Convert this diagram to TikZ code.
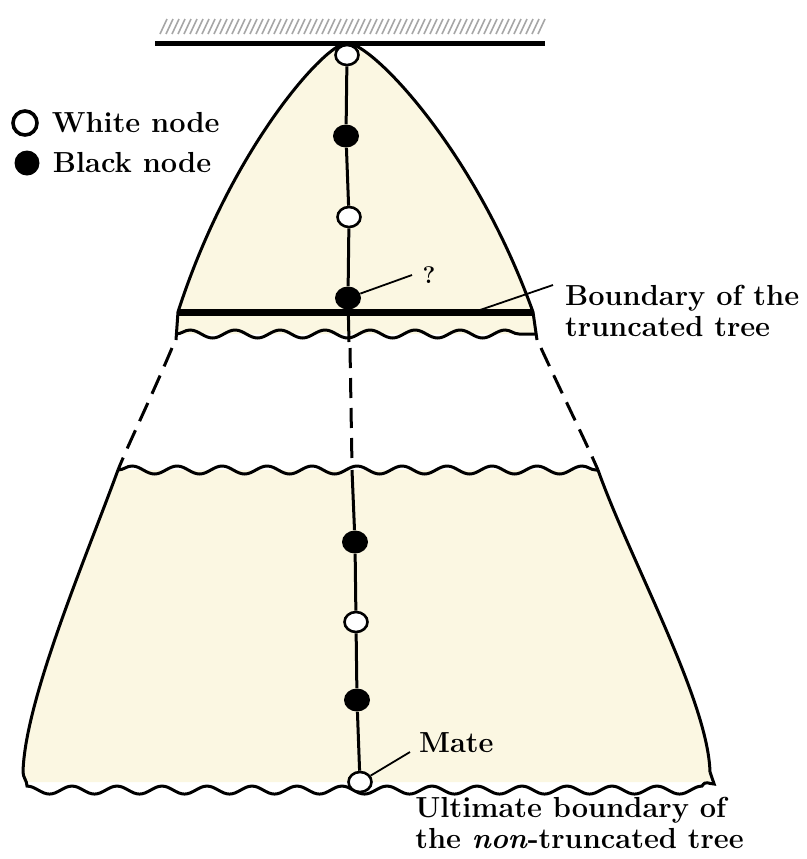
\documentclass[tikz,border=0pt]{standalone}
\usepackage{tikz}
\usetikzlibrary{decorations.pathmorphing,positioning,shapes.geometric}
\definecolor{cream}{RGB}{251,247,226}

\begin{document}
\begin{tikzpicture}[
  x=0.5pt, y=-0.5pt,
  font=\fontsize{14.5}{15.5}\selectfont\bfseries,
  outline/.style={line width=1.5pt},
  wave/.style={line width=1.5pt, decorate,
               decoration={snake, segment length=22.5pt, amplitude=2pt}},
  dashline/.style={line width=1.5pt, dash pattern=on 10pt off 5pt},
  wnode/.style={ellipse, draw, fill=white, line width=1.3pt, inner sep=0pt,
                minimum width=11.5pt, minimum height=10pt},
  bnode/.style={ellipse, fill=black, inner sep=0pt,
                minimum width=13pt, minimum height=11.5pt},
  ptr/.style={line width=0.9pt},
]
  \useasboundingbox (0,0) rectangle (807,859);

  % shaded regions
  \fill[cream] (176,334) -- (178,312) .. controls (230,150) and (325,43) .. (347,43)
    .. controls (372,43) and (475,150) .. (533,312) -- (536,334) -- cycle;
  \fill[cream] (118,470) .. controls (85,560) and (25,700) .. (23,782)
    -- (710,782) .. controls (708,700) and (630,560) .. (598,470) -- cycle;

  % ceiling
  \foreach \x in {160,166,...,540}
    \draw[gray!70, line width=0.8pt] (\x,34) -- (\x+7,19);
  \draw[line width=2.5pt] (155,43) -- (545,43);

  % tree outline
  \draw[outline] (176,340) -- (178,312) .. controls (230,150) and (325,43) .. (347,43)
    .. controls (372,43) and (475,150) .. (533,312) -- (537,340);
  \draw[dashline] (172,348) .. controls (150,400) and (128,445) .. (118,470);
  \draw[dashline] (541,348) .. controls (565,400) and (585,440) .. (598,470);
  \draw[outline] (118,470) .. controls (85,560) and (25,700) .. (23,772);
  \draw[outline] (598,470) .. controls (630,560) and (708,700) .. (710,772);

  % boundaries
  \coordinate (tl) at (178,312);
  \coordinate (tr) at (533,312);
  \draw[line width=3.5pt] (tl) -- (tr);
  \draw[wave] (176,334) -- (537,334);
  \draw[wave] (118,470) -- (598,470);
  \draw[wave] (23,772) -- (23,784) -- (710,784) -- (710,772);

  % tree nodes
  \node[wnode] (w1) at (347,55) {};
  \node[bnode] (b1) at (346,136) {};
  \node[wnode] (w2) at (349,217) {};
  \node[bnode] (b2) at (348,298) {};
  \node[bnode] (b3) at (355,542) {};
  \node[wnode] (w3) at (356,622) {};
  \node[bnode] (b4) at (357,700) {};
  \node[wnode] (w4) at (360,782) {};
  \coordinate (c1) at (349,342);
  \coordinate (c2) at (350,348);
  \coordinate (c3) at (352,466);
  \coordinate (c4) at (352,470);

  \draw[outline] (w1) -- (b1) -- (w2) -- (b2) -- (c1);
  \draw[dashline] (c2) -- (c3);
  \draw[outline] (c4) -- (b3) -- (w3) -- (b4) -- (w4);

  % labels
  \node[font=\fontsize{12}{14}\selectfont\bfseries] (q) at (429,275) {?};
  \draw[ptr] (b2) -- (412,275);
  \node[anchor=west, align=left] (bnd) at (558,311) {Boundary of the\\truncated tree};
  \coordinate (bp) at (480,310);
  \draw[ptr] (bp) -- (553,285);
  \node[anchor=west] (mate) at (412,743) {Mate};
  \draw[ptr] (w4) -- (410,752);
  \node[anchor=north west, align=left, inner sep=0pt] (ult) at (415,797)
    {Ultimate boundary of\\the \textit{non}-truncated tree};

  % legend
  \node[circle, draw, fill=white, line width=1.8pt, minimum size=12pt, inner sep=0pt]
    (lw) at (25,123) {};
  \node[right=3pt of lw] {White node};
  \node[circle, fill=black, minimum size=12.5pt, inner sep=0pt] (lb) at (27,163) {};
  \node[right=3pt of lb] {Black node};
\end{tikzpicture}
\end{document}
